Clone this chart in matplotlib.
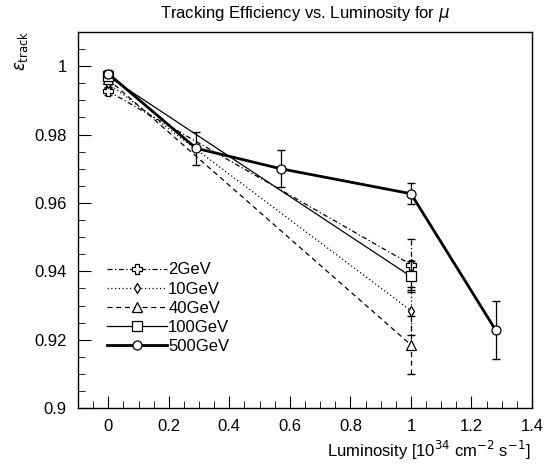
import numpy as np
from matplotlib import pyplot as plt
from matplotlib.ticker import MultipleLocator

plt.rcParams['font.family'] = ['Liberation Sans', 'DejaVu Sans']

labels = ['2GeV', '10GeV', '40GeV', '100GeV', '500GeV']

# luminosity points
lumi_low = [0.0, 1.0]
lumi_500 = [0.0, 0.29, 0.57, 1.0, 1.28]

# efficiencies
eff_2 = [0.9927, 0.9420]
eff_10 = [0.9950, 0.9285]
eff_40 = [0.9962, 0.9185]
eff_100 = [0.9970, 0.9385]
eff_500 = [0.9978, 0.9760, 0.9700, 0.9627, 0.9228]

# errors
err_2 = [0.001, 0.0075]
err_10 = [0.001, 0.0070]
err_40 = [0.001, 0.0085]
err_100 = [0.001, 0.0045]
err_500 = [0.001, 0.0048, 0.0054, 0.0030, 0.0085]

series = [
    (lumi_low, eff_2, err_2, (0, (4, 2, 1, 2)), 'P', 0.9),
    (lumi_low, eff_10, err_10, (0, (1, 2)), 'd', 0.9),
    (lumi_low, eff_40, err_40, (0, (4, 3)), '^', 0.9),
    (lumi_low, eff_100, err_100, '-', 's', 0.9),
    (lumi_500, eff_500, err_500, '-', 'o', 2.0),
]

fig = plt.figure(figsize=(5.44, 4.74), dpi=100)
ax = fig.add_axes([0.1434, 0.139, 0.8346, 0.7935])

for (x, y, e, ls, mk, lw), lab in zip(series, labels):
    eb = ax.errorbar(x, y, yerr=e, fmt='none', ecolor='black',
                     elinewidth=0.9, capsize=3)
    eb[-1][0].set_linestyle(ls if lw < 1.5 else '-')
    ax.plot(x, y, color='black', linestyle=ls, linewidth=lw,
            marker=mk, markersize=6.5 if mk != 'd' else 5,
            markerfacecolor='white', markeredgecolor='black',
            markeredgewidth=0.9, label=lab)

ax.set_xlim(-0.1, 1.4)
ax.set_ylim(0.9, 1.01)
ax.xaxis.set_minor_locator(MultipleLocator(0.05))
ax.yaxis.set_minor_locator(MultipleLocator(0.005))
ax.set_xticks([0, 0.2, 0.4, 0.6, 0.8, 1, 1.2, 1.4])
ax.set_xticklabels(['0', '0.2', '0.4', '0.6', '0.8', '1', '1.2', '1.4'])
ax.set_yticks([0.9, 0.92, 0.94, 0.96, 0.98, 1.0])
ax.set_yticklabels(['0.9', '0.92', '0.94', '0.96', '0.98', '1'])
ax.tick_params(which='both', direction='in', top=False, right=False,
               labelsize=12)
ax.tick_params(which='major', length=9, pad=8)
ax.tick_params(which='minor', length=5)
for s in ax.spines.values():
    s.set_linewidth(1.0)

ax.set_title(r'Tracking Efficiency vs. Luminosity for $\mu$', fontsize=12, pad=10)
fig.text(0.975, 0.025, r'Luminosity [10$^{34}$ cm$^{-2}$ s$^{-1}$]',
         ha='right', va='bottom', fontsize=12)
fig.text(0.04, 0.935, r'$\varepsilon_{\mathrm{track}}$', rotation=90,
         ha='center', va='top', fontsize=12)

ax.legend(loc='upper left', bbox_to_anchor=(0.05, 0.405), frameon=False,
          handlelength=3.6, labelspacing=0.25, handletextpad=0.05,
          fontsize=12, borderaxespad=0)

fig.savefig('out.png', dpi=100)
